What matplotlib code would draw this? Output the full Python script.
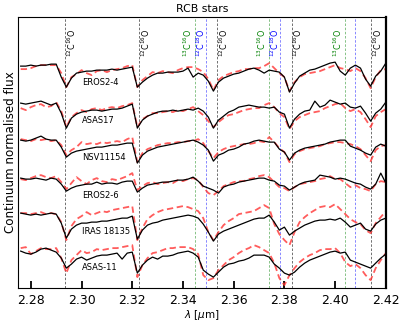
import numpy as np
import matplotlib
matplotlib.use("Agg")
import matplotlib.pyplot as plt

# longueurs d'onde (micron), pas de 0.002
wave = np.arange(73) * 0.002 + 2.276

stars = ["EROS2-4", "ASAS17", "NSV11154", "EROS2-6", "IRAS 18135", "ASAS-11"]
offsets = [1.23, 0.85, 0.48, 0.10, -0.26, -0.62]

# ecart au continuum en % (observe = noir, modele = rouge)
obs_eros24 = [-1, -1, 0, -1, 0, 0, 1, 1, -12, -22, -13, -8, -7, -6, -6, -5, -5, -5, -4, -5,
              -4, -3, -2, -22, -17, -13, -10, -8, -8, -7, -7, -7, -6, -3, -12, -8, -10, -16, -26, -17,
              -13, -11, -9, -8, -6, -4, -3, -5, -8, -5, -6, -7, -12, -27, -18, -11, -8, -5, -4, -2,
              0, 2, 3, -6, -10, -3, 0, -3, -14, -21, -11, -6, 2]
mod_eros24 = [-4, -4, -3, -1, 0, 0, 0, 0, -8, -22, -12, -9, -5, -8, -10, -6, -5, -7, -5, -4,
              -3, -1, 0, -22, -15, -11, -7, -8, -6, -7, -8, -5, -3, -2, -2, -4, -7, -14, -25, -15,
              -11, -9, -7, -6, -4, -4, -3, -3, -1, 2, -3, -8, -12, -26, -17, -12, -9, -8, -7, -6,
              -4, -2, 0, -3, -4, -6, -3, -6, -13, -23, -12, -5, -4]

obs_asas17 = [0, -1, 0, 1, 2, 0, -2, 0, -10, -25, -15, -11, -9, -8, -7, -7, -8, -7, -6, -6,
              -5, -3, -1, -25, -17, -13, -11, -9, -8, -8, -7, -8, -7, -6, -7, -5, -8, -14, -25, -17,
              -13, -9, -7, -4, -3, -2, -3, -4, -4, -5, -4, -9, -11, -25, -16, -11, -8, -7, 2, -4,
              -2, 3, 1, -1, 0, -4, -5, -3, -10, -18, -10, -6, 1]
mod_asas17 = [-5, -7, -4, -2, -1, -4, -3, 1, -8, -24, -14, -10, -7, -9, -6, -5, -7, -5, -4, -5,
              -3, -2, 0, -24, -16, -13, -10, -10, -9, -8, -9, -7, -8, -6, -4, -8, -12, -18, -24, -19,
              -15, -12, -11, -9, -7, -6, -5, -5, -2, 0, -4, -10, -14, -26, -18, -14, -12, -10, -9, -8,
              -5, -3, -1, 0, -5, -8, -6, -9, -16, -24, -13, -9, -6]

obs_nsv = [0, -1, 0, 2, 4, 1, 0, 0, -7, -17, -13, -11, -10, -9, -8, -7, -7, -6, -5, -5,
           -4, -3, -3, -23, -15, -11, -9, -7, -6, -5, -4, -3, -2, -1, 0, -2, -5, -10, -21, -15,
           -13, -10, -9, -7, -4, -3, -1, 0, -1, -2, -2, -9, -12, -20, -13, -10, -8, -7, -6, -5,
           -4, -2, -1, 0, 0, -6, -8, -10, -13, -15, -7, -4, -6]
mod_nsv = [1, 0, -1, 1, 0, 1, -1, 0, -5, -15, -10, -7, -2, -4, -3, -4, -2, -3, -2, -1,
           -2, 1, 3, -22, -13, -9, -7, -5, -4, -3, -3, -2, -2, -1, -1, 1, -3, -11, -18, -12,
           -9, -7, -6, -5, -4, -4, -3, -1, -2, 3, -2, -8, -12, -22, -14, -11, -9, -8, -7, -6,
           -4, -3, -2, -2, -3, -4, -6, -9, -15, -21, -10, -6, -5]

obs_eros26 = [0, -1, -1, 0, -1, -2, 0, -1, -6, -13, -10, -8, -7, -6, -6, -4, -6, -5, -5, -6,
              -4, -3, -3, -14, -10, -7, -6, -5, -4, -4, -3, -2, -2, -1, 1, -3, -8, -10, -12, -15,
              -9, -7, -6, -4, -3, -2, -1, 0, 0, -2, -3, -7, -8, -12, -9, -6, -4, -3, -2, 3,
              2, 1, -1, 0, -1, -3, -5, -6, -9, -11, -6, 5, -5]
mod_eros26 = [-1, -2, 0, 2, 3, 1, 0, 2, -4, -11, -5, 1, -3, -6, -2, 0, -3, -4, -1, -2,
              0, 2, 5, -12, -8, -5, -4, -6, -5, -4, -5, -2, -3, -1, 0, -2, -9, -15, -17, -13,
              -8, -6, -4, -3, -3, -1, 0, 2, 3, 1, -4, -9, -10, -13, -9, -6, -5, -4, -3, -1,
              0, 2, -1, -1, -5, -9, -7, -10, -11, -13, -6, -3, -4]

obs_iras = [1, 0, -1, 0, -1, 0, 1, 0, -9, -24, -15, -11, -9, -9, -8, -8, -7, -7, -6, -5,
            -4, -4, -2, -25, -16, -11, -9, -8, -6, -5, -4, -3, -2, -1, -2, -4, -10, -18, -27, -20,
            -17, -15, -13, -11, -9, -7, -5, -4, -4, -1, -8, -16, -13, -21, -17, -14, -11, -9, -7, -6,
            -6, -5, -6, -4, -8, -13, -11, -9, -15, -17, -10, -6, -4]
mod_iras = [1, 1, 0, 1, 2, 0, 1, 0, -8, -26, -12, -5, -2, 2, -1, 1, 3, 2, 4, 5,
            6, 7, 8, -26, -14, -5, -1, 2, 4, 5, 6, 7, 8, 7, 5, 3, -4, -18, -26, -18,
            -11, -7, -4, 0, 1, 2, 3, 6, 9, 6, -10, -20, -26, -31, -18, -8, -3, 1, 4, 7,
            8, 7, 10, 5, 0, -5, -8, -10, -16, -19, -9, -3, 3]

obs_asas11 = [-1, -3, -4, -2, 1, 2, 0, -2, -8, -18, -14, -9, -7, -10, -8, -6, -5, -5, -4, -3,
              -9, -3, -2, -23, -15, -10, -7, -9, -6, -6, -5, -3, -2, -1, -3, -7, -20, -24, -27, -22,
              -17, -14, -13, -11, -10, -8, -5, -5, -5, -7, -14, -18, -23, -25, -22, -17, -13, -10, -8, -6,
              -4, -2, -1, -3, -2, -10, -12, -14, -16, -18, -13, -8, -4]
mod_asas11 = [2, 3, -4, -1, 2, 1, 1, 2, -8, -23, -10, -5, 0, -3, -2, 1, 0, 1, 2, 2,
              3, 4, 5, -27, -15, -8, -3, -2, 0, 2, 2, 3, 3, 3, 1, -4, -25, -30, -28, -20,
              -15, -10, -7, -3, 0, 2, 5, 3, 0, -3, -13, -28, -35, -25, -18, -12, -8, -5, -3, 0,
              1, 1, 2, -3, -12, -16, -14, -18, -25, -30, -18, -10, -3]

observed = [obs_eros24, obs_asas17, obs_nsv, obs_eros26, obs_iras, obs_asas11]
models = [mod_eros24, mod_asas17, mod_nsv, mod_eros26, mod_iras, mod_asas11]

# tetes de bande
co_12_16 = [2.2935, 2.3227, 2.3535, 2.3829, 2.4142]
co_13_16 = [2.3448, 2.3739, 2.4037]
co_12_18 = [2.3492, 2.3783, 2.4077]
co_12_18_labels = [2.3492, 2.3783]

fig = plt.figure(figsize=(4.07, 3.23), dpi=100)
ax = fig.add_axes([0.044, 0.108, 0.904, 0.839])

for lam in co_12_16:
    ax.axvline(lam, color='0.35', ls='--', dashes=(3, 2), lw=0.6, zorder=1)
    ax.text(lam + 0.0025, 2.60, r'$^{12}$C$^{16}$O', rotation=90, ha='center', va='top',
            fontsize=5.8, color='k')
for lam in co_13_16:
    ax.axvline(lam, color='g', ls='--', dashes=(3, 2), lw=0.6, alpha=0.55, zorder=1)
    ax.text(lam - 0.0028, 2.60, r'$^{13}$C$^{16}$O', rotation=90, ha='center', va='top',
            fontsize=5.8, color='g')
for lam in co_12_18:
    ax.axvline(lam, color='b', ls='--', dashes=(3, 2), lw=0.6, alpha=0.55, zorder=1)
for lam in co_12_18_labels:
    ax.text(lam - 0.002, 2.60, r'$^{12}$C$^{18}$O', rotation=90, ha='center', va='top',
            fontsize=5.8, color='b')

for name, off, obs, mod in zip(stars, offsets, observed, models):
    ax.plot(wave, 1 + np.array(mod) / 100. + off, '--', color='#ff3333', lw=1.3, alpha=0.8,
            dashes=(3.5, 2), zorder=2)
    ax.plot(wave, 1 + np.array(obs) / 100. + off, '-', color='k', lw=0.9, zorder=3)
    ax.text(2.3003, 1 + off - 0.175, name, fontsize=6, ha='left', va='center')

ax.set_xlim(2.2749, 2.42)
ax.set_ylim(0, 2.71)
ax.set_yticks([])
ax.set_xticks([2.28, 2.30, 2.32, 2.34, 2.36, 2.38, 2.40, 2.42])
ax.tick_params(axis='x', direction='in', length=5, width=1.3, labelsize=9, pad=4)
ax.spines['right'].set_linewidth(1.6)
ax.set_title("RCB stars", fontsize=7.8, pad=4)
ax.set_xlabel(r'$\lambda$ [$\mu$m]', fontsize=7.5, labelpad=1)
ax.set_ylabel("Continuum normalised flux", fontsize=8.6, labelpad=1)

plt.savefig("out.png", dpi=100)
